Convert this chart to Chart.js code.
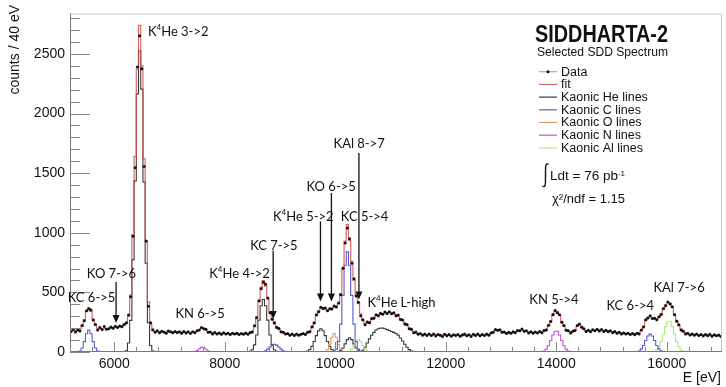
<!DOCTYPE html>
<html>
<head>
<meta charset="utf-8">
<script src="https://cdn.jsdelivr.net/npm/chart.js@4.4.1/dist/chart.umd.min.js"></script>
<style>
  html, body { margin: 0; padding: 0; background: #fff; }
  #wrap { width: 726px; height: 387px; position: relative; }
</style>
</head>
<body>
<div id="wrap"><canvas id="spectrumChart"></canvas></div>
<script>
// SDD spectrum, 40 eV bins starting at 5200 eV
const binLow = 5200;
const binWidth = 40;

// measured counts per bin (one row = 1 keV)
const dataCounts = [
  172, 190, 168, 185, 176, 222, 262, 345, 362, 352, 268, 230, 185, 206, 188, 214, 190, 196, 209, 200, 215, 205, 218, 212, 230,
  245, 310, 464, 971, 1546, 2391, 2653, 2375, 1555, 931, 383, 245, 186, 165, 178, 162, 175, 168, 158, 176, 170, 161, 172, 163, 169,
  158, 172, 160, 169, 155, 170, 162, 178, 185, 206, 194, 190, 165, 168, 150, 163, 152, 160, 149, 161, 150, 158, 147, 157, 150,
  158, 146, 155, 149, 160, 148, 163, 168, 220, 288, 430, 530, 585, 568, 452, 330, 275, 245, 206, 198, 170, 165, 150, 156, 141,
  150, 138, 152, 140, 149, 155, 146, 165, 170, 212, 244, 312, 338, 375, 365, 370, 345, 362, 360, 386, 378, 412, 480, 702, 915,
  1040, 950, 745, 615, 470, 418, 305, 270, 228, 252, 246, 280, 284, 312, 305, 325, 316, 335, 322, 338, 320, 330, 305, 310, 272,
  268, 235, 230, 196, 190, 162, 168, 148, 156, 140, 152, 138, 150, 139, 151, 135, 147, 140, 131, 148, 136, 146, 133, 145, 138,
  146, 133, 142, 150, 136, 145, 131, 148, 139, 150, 136, 146, 138, 151, 140, 160, 165, 188, 182, 186, 165, 168, 155, 166, 158,
  170, 162, 180, 178, 192, 175, 178, 160, 170, 158, 168, 160, 172, 162, 180, 185, 225, 255, 315, 348, 330, 312, 250, 222, 182,
  178, 160, 175, 180, 222, 235, 208, 195, 172, 182, 170, 186, 178, 190, 176, 188, 172, 183, 170, 178, 162, 171, 158, 166, 152,
  160, 150, 158, 147, 156, 145, 158, 152, 185, 210, 270, 285, 305, 280, 284, 270, 296, 315, 365, 388, 420, 402, 380, 312, 258,
  228, 185, 175, 150, 158, 142, 152, 140, 150, 138, 147, 135, 146, 137, 148, 132, 144, 136, 142, 130
];

// total fit per bin
const fitCounts = [
  178, 179, 180, 183, 191, 217, 271, 338, 371, 340, 275, 223, 199, 193, 193, 195, 197, 199, 201, 204, 207, 210, 213, 217, 225,
  238, 300, 480, 985, 1640, 2370, 2740, 2400, 1620, 930, 420, 230, 180, 172, 171, 170, 170, 169, 169, 168, 168, 167, 167, 166, 166,
  165, 165, 164, 164, 163, 164, 166, 174, 188, 200, 198, 185, 170, 163, 158, 158, 157, 156, 156, 155, 155, 154, 154, 153, 153,
  152, 152, 152, 152, 152, 153, 157, 172, 213, 296, 420, 542, 598, 553, 445, 339, 272, 236, 214, 193, 174, 161, 153, 149, 147,
  146, 145, 145, 145, 146, 148, 152, 160, 175, 205, 250, 305, 345, 368, 372, 362, 352, 355, 368, 378, 385, 405, 490, 690, 930,
  1068, 935, 760, 600, 480, 405, 320, 262, 238, 240, 255, 272, 290, 303, 312, 318, 322, 326, 328, 329, 328, 322, 312, 298, 280,
  262, 243, 222, 203, 184, 170, 160, 153, 149, 147, 146, 145, 145, 144, 144, 143, 143, 142, 142, 141, 141, 140, 140, 140, 140,
  140, 140, 140, 140, 140, 141, 141, 141, 141, 142, 142, 142, 143, 144, 147, 155, 168, 180, 185, 180, 170, 162, 160, 160, 161,
  163, 168, 176, 182, 184, 180, 172, 166, 164, 164, 164, 165, 165, 168, 174, 189, 218, 261, 308, 339, 338, 306, 258, 215, 188,
  174, 168, 170, 185, 215, 230, 215, 190, 178, 176, 178, 180, 182, 183, 183, 182, 180, 178, 175, 172, 169, 166, 163, 160, 158,
  156, 155, 154, 153, 152, 152, 154, 162, 180, 215, 262, 290, 296, 288, 278, 276, 290, 320, 360, 395, 415, 410, 375, 320, 265,
  222, 192, 170, 158, 151, 148, 147, 146, 145, 144, 143, 142, 142, 141, 140, 140, 139, 139, 138, 138
];

// fit components: [first bin centre (eV), counts per bin]
const heLines = [
  [6180, [0, 10, 75, 265, 775, 1435, 2165, 2525, 2205, 1425, 745, 245, 55, 7, 0]],
  [8420, [0, 5, 19, 60, 143, 267, 388, 440, 388, 267, 143, 60, 19, 5, 0]],
  [9420, [0, 3, 8, 21, 47, 88, 137, 178, 195, 178, 137, 88, 47, 21, 8, 3, 0]],
  [10020, [0, 3, 12, 33, 68, 104, 120, 104, 68, 33, 12, 3, 0]],
  [10460, [0, 15, 40, 75, 110, 140, 165, 185, 195, 200, 200, 195, 188, 180, 172, 165, 155, 140, 118, 92, 65, 40, 20, 7, 0]]
];
const cLines = [
  [5300, [0, 2, 9, 34, 87, 153, 185, 153, 87, 34, 9, 2, 0]],
  [8660, [0, 4, 11, 24, 42, 58, 65, 58, 42, 24, 11, 4, 0]],
  [9940, [0, 5, 24, 87, 234, 475, 728, 840, 728, 475, 234, 87, 24, 5, 0]],
  [15420, [0, 3, 9, 26, 55, 96, 134, 150, 134, 96, 55, 26, 9, 3, 0]]
];
const oLines = [
  [9780, [0, 4, 21, 64, 124, 155, 124, 64, 21, 4, 0]]
];
const nLines = [
  [7420, [0, 4, 12, 27, 39, 38, 25, 11, 4, 0]],
  [13700, [0, 3, 9, 24, 53, 96, 143, 174, 174, 143, 96, 53, 24, 9, 3, 0]]
];
const alLines = [
  [10180, [0, 2, 8, 24, 55, 89, 105, 89, 55, 24, 8, 2, 0]],
  [15700, [0, 2, 6, 18, 43, 88, 149, 213, 254, 254, 213, 149, 88, 43, 18, 6, 2, 0]]
];

const xTicks = [6000, 8000, 10000, 12000, 14000, 16000];
const yTicks = [0, 500, 1000, 1500, 2000, 2500];

const legendNames = ['Data', 'fit', 'Kaonic He lines', 'Kaonic C lines', 'Kaonic O lines', 'Kaonic N lines', 'Kaonic Al lines'];
const colors = {
  data: '#111111',
  dataLine: '#a8a8c0',
  fit: 'rgba(212,78,78,0.85)',
  he: '#3a3a3a',
  c: '#5a5ad0',
  o: '#e29a68',
  n: '#c455d8',
  al: '#aee87c'
};

// peak labels and arrows, placed in (eV, counts)
const labelMarks = [
  { text: 'K^{4}He 3->2', e: 6610, c: 2686, align: 'left' },
  { text: 'KO 7->6', e: 5950, c: 656 },
  { text: 'KC 6->5', e: 5590, c: 451 },
  { text: 'KN 6->5', e: 7555, c: 317 },
  { text: 'K^{4}He 4->2', e: 8268, c: 653 },
  { text: 'KC 7->5', e: 8890, c: 891 },
  { text: 'K^{4}He 5->2', e: 9422, c: 1137 },
  { text: 'KO 6->5', e: 9927, c: 1383 },
  { text: 'KAl 8->7', e: 10433, c: 1743 },
  { text: 'KC 5->4', e: 10532, c: 1137 },
  { text: 'K^{4}He L-high', e: 11199, c: 410 },
  { text: 'KN 5->4', e: 13959, c: 438 },
  { text: 'KC 6->4', e: 15340, c: 389 },
  { text: 'KAl 7->6', e: 16223, c: 539 }
];
const arrowMarks = [
  { e: 6034, from: 588, to: 244 },
  { e: 8877, from: 850, to: 276 },
  { e: 9733, from: 1096, to: 424 },
  { e: 9931, from: 1334, to: 424 },
  { e: 10429, from: 1670, to: 440 }
];

function binsFrom(first, counts) {
  return counts.map((c, i) => ({ x: first + i * binWidth, y: c }));
}

function componentSets(lines, color) {
  return lines.map(([first, counts]) => ({
    data: binsFrom(first, counts),
    stepped: 'middle',
    borderColor: color,
    borderWidth: 1.1,
    pointRadius: 0,
    fill: false
  }));
}

// text with ^{...} superscripts
function drawRich(ctx, str, x, y, size, family, align) {
  const parts = str.split(/(\^\{[^}]*\})/).filter(Boolean).map(p =>
    p.startsWith('^{') ? { t: p.slice(2, -1), sup: true } : { t: p, sup: false });
  const supSize = Math.round(size * 0.62);
  let w = 0;
  parts.forEach(p => {
    ctx.font = `${p.sup ? supSize : size}px ${family}`;
    p.w = ctx.measureText(p.t).width;
    w += p.w;
  });
  let cx = align === 'left' ? x : x - w / 2;
  ctx.textAlign = 'left';
  parts.forEach(p => {
    ctx.font = `${p.sup ? supSize : size}px ${family}`;
    ctx.fillText(p.t, cx, p.sup ? y - size * 0.33 : y);
    cx += p.w;
  });
}

const overlayPlugin = {
  id: 'overlay',
  afterDraw(chart) {
    const { ctx, chartArea: a, scales: { x, y } } = chart;
    ctx.save();

    // frame
    ctx.lineWidth = 1;
    ctx.strokeStyle = '#c8c8c8';
    ctx.beginPath();
    ctx.moveTo(a.left, a.top + 0.5);
    ctx.lineTo(a.right - 0.5, a.top + 0.5);
    ctx.lineTo(a.right - 0.5, a.bottom);
    ctx.stroke();
    ctx.strokeStyle = '#777';
    ctx.beginPath();
    ctx.moveTo(a.left + 0.5, a.top);
    ctx.lineTo(a.left + 0.5, a.bottom - 0.5);
    ctx.lineTo(a.right, a.bottom - 0.5);
    ctx.stroke();

    // inner ticks
    ctx.strokeStyle = '#888';
    ctx.beginPath();
    for (let v = 0; v <= y.max; v += 100) {
      const py = Math.round(y.getPixelForValue(v)) + 0.5;
      const len = v % 500 === 0 ? 20 : 10;
      ctx.moveTo(a.left, py);
      ctx.lineTo(a.left + len, py);
    }
    for (let v = x.min; v <= x.max; v += 400) {
      const px = Math.round(x.getPixelForValue(v)) + 0.5;
      const len = v % 2000 === 0 ? 10 : 5;
      ctx.moveTo(px, a.bottom);
      ctx.lineTo(px, a.bottom - len);
    }
    ctx.stroke();

    // axis titles
    ctx.fillStyle = '#111';
    ctx.font = '14px "Liberation Sans"';
    ctx.textBaseline = 'middle';
    ctx.textAlign = 'right';
    ctx.fillText('E [eV]', 721, 378);
    ctx.save();
    ctx.translate(15, 5);
    ctx.rotate(-Math.PI / 2);
    ctx.fillText('counts / 40 eV', 0, 0);
    ctx.restore();

    // peak labels
    ctx.fillStyle = '#111';
    labelMarks.forEach(m => {
      drawRich(ctx, m.text, x.getPixelForValue(m.e), y.getPixelForValue(m.c), 13, 'Lato', m.align || 'center');
    });

    // arrows
    ctx.strokeStyle = '#111';
    ctx.lineWidth = 1.3;
    arrowMarks.forEach(m => {
      const px = x.getPixelForValue(m.e);
      const y1 = y.getPixelForValue(m.from);
      const y2 = y.getPixelForValue(m.to);
      ctx.beginPath();
      ctx.moveTo(px, y1);
      ctx.lineTo(px, y2 - 6);
      ctx.stroke();
      ctx.beginPath();
      ctx.moveTo(px - 3.5, y2 - 8);
      ctx.lineTo(px + 3.5, y2 - 8);
      ctx.lineTo(px, y2);
      ctx.closePath();
      ctx.fill();
    });

    // legend block
    ctx.textAlign = 'left';
    ctx.textBaseline = 'alphabetic';
    ctx.font = 'bold 23px "Liberation Sans"';
    ctx.fillText('SIDDHARTA-2', 535, 41.5, 133);
    ctx.font = '13px "Liberation Sans"';
    ctx.fillText('Selected SDD Spectrum', 537, 55.5, 131);

    const legendColors = [colors.dataLine, colors.fit, colors.he, colors.c, colors.o, colors.n, colors.al];
    legendNames.forEach((name, i) => {
      const ly = 71.7 + i * 12.7;
      ctx.strokeStyle = legendColors[i];
      ctx.lineWidth = 1.2;
      ctx.beginPath();
      ctx.moveTo(539, ly);
      ctx.lineTo(557, ly);
      ctx.stroke();
      if (i === 0) {
        ctx.fillStyle = colors.data;
        ctx.beginPath();
        ctx.arc(548, ly, 1.5, 0, Math.PI * 2);
        ctx.fill();
      }
      ctx.fillStyle = '#111';
      ctx.font = '12.5px "Liberation Sans"';
      ctx.textBaseline = 'middle';
      ctx.fillText(name, 561, ly + 0.5);
    });

    // luminosity and chi2
    ctx.strokeStyle = '#111';
    ctx.lineWidth = 1.4;
    ctx.beginPath();
    ctx.moveTo(548.5, 164.5);
    ctx.quadraticCurveTo(546, 162.5, 545.6, 167);
    ctx.lineTo(545.4, 183.5);
    ctx.quadraticCurveTo(545, 188, 542.5, 186);
    ctx.stroke();
    ctx.textBaseline = 'alphabetic';
    drawRich(ctx, 'Ldt = 76 pb^{-1}', 550, 180, 13.5, '"Liberation Sans"', 'left');
    ctx.font = '13px "Liberation Sans"';
    ctx.fillText('\u03c7\u00b2/ndf = 1.15', 552, 203);

    ctx.restore();
  }
};

document.addEventListener('DOMContentLoaded', () => {
  Chart.defaults.font.family = '"Liberation Sans"';
  Chart.defaults.color = '#111';

  const centres = dataCounts.map((_, i) => binLow + binWidth / 2 + i * binWidth);

  const datasets = [
    {
      label: 'Data',
      data: dataCounts.map((c, i) => ({ x: centres[i], y: c })),
      showLine: false,
      pointRadius: 1.5,
      pointBorderWidth: 0,
      pointBackgroundColor: colors.data
    },
    {
      label: 'fit',
      data: fitCounts.map((c, i) => ({ x: centres[i], y: c })),
      stepped: 'middle',
      borderColor: colors.fit,
      borderWidth: 1.2,
      pointRadius: 0,
      fill: false
    },
    ...componentSets(cLines, colors.c),
    ...componentSets(alLines, colors.al),
    ...componentSets(oLines, colors.o),
    ...componentSets(nLines, colors.n),
    ...componentSets(heLines, colors.he)
  ];

  new Chart(document.getElementById('spectrumChart'), {
    type: 'line',
    data: { datasets },
    options: {
      responsive: true,
      maintainAspectRatio: false,
      animation: false,
      layout: { padding: { top: 5, right: 3, left: 0, bottom: 0 } },
      plugins: {
        legend: { display: false },
        tooltip: { enabled: false }
      },
      scales: {
        x: {
          type: 'linear',
          min: 5200,
          max: 17000,
          grid: { display: false, drawTicks: false },
          border: { display: false },
          afterBuildTicks: scale => { scale.ticks = xTicks.map(v => ({ value: v })); },
          afterFit: scale => { scale.height = 35; },
          ticks: { padding: 4, font: { size: 14 }, maxRotation: 0, callback: v => String(v) }
        },
        y: {
          min: 0,
          max: 2840,
          grid: { display: false, drawTicks: false },
          border: { display: false },
          afterBuildTicks: scale => { scale.ticks = yTicks.map(v => ({ value: v })); },
          afterFit: scale => { scale.width = 70; },
          ticks: { padding: 5, font: { size: 14 }, callback: v => String(v) }
        }
      }
    },
    plugins: [overlayPlugin]
  });
});
</script>
</body>
</html>
